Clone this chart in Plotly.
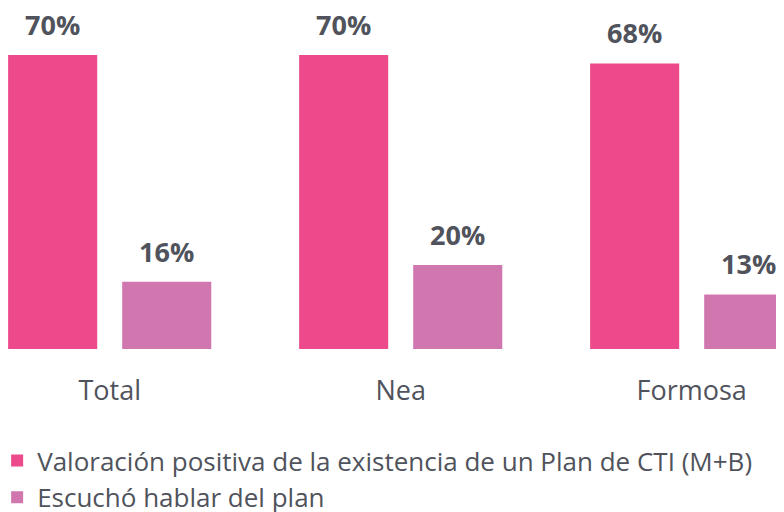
import plotly.graph_objects as go

categories = ["Total", "Nea", "Formosa"]
series_names = ["Valoración positiva de la existencia de un Plan de CTI (M+B)", "Escuchó hablar del plan"]
valoracion = [70, 70, 68]
escucho = [16, 20, 13]
colors = ["#EC4A8A", "#D177B0"]

FONT = "Open Sans"
TXT = "#50535C"

fig = go.Figure()
for name, vals, col in zip(series_names, [valoracion, escucho], colors):
    fig.add_trace(go.Bar(
        x=categories, y=vals, name=name, marker=dict(color=col, line=dict(width=0)),
        cliponaxis=False,
    ))

# value labels above each bar
for vals, shift in zip([valoracion, escucho], [-57, 57]):
    for c, v in zip(categories, vals):
        fig.add_annotation(x=c, y=v, text=f"<b>{v}%</b>", showarrow=False,
                           xshift=shift, yanchor="bottom", yshift=11, borderpad=0,
                           font=dict(family=FONT, size=27, color=TXT))

# browser adds an 8px body margin; figure is sized to compensate
W, H = 776, 504
pitch = 291.0
c0 = 109.7 - 8
xr = [(-c0) / pitch, (W - c0) / pitch]

fig.update_layout(
    width=W, height=H,
    margin=dict(l=0, r=0, t=5, b=163, autoexpand=False),
    plot_bgcolor="white", paper_bgcolor="white",
    barmode="group", bargap=0.216, bargroupgap=0.219,
    font=dict(family=FONT, color=TXT),
    xaxis=dict(range=xr, showgrid=False, showline=False, zeroline=False,
               ticks="", tickfont=dict(size=27, color=TXT, family=FONT),
               ticklabelstandoff=23),
    yaxis=dict(range=[0, 80], visible=False),
    legend=dict(orientation="v", x=-0.014, xanchor="left", y=-0.262, yanchor="top",
                font=dict(size=26, color=TXT, family=FONT), itemwidth=30,
                tracegroupgap=0, traceorder="normal"),
    showlegend=True,
)

fig.write_html("out.html")
